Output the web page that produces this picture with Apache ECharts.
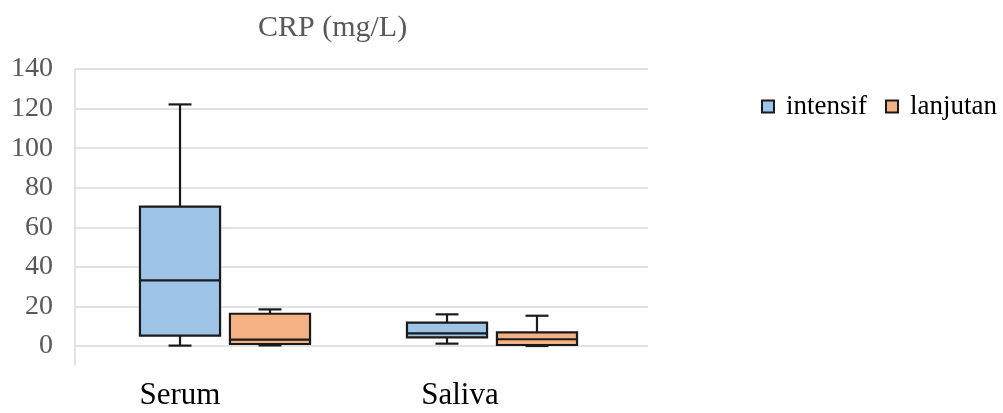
<!DOCTYPE html>
<html>
<head>
<meta charset="utf-8">
<script src="https://cdn.jsdelivr.net/npm/echarts@6/dist/echarts.min.js"></script>
<style>
html,body{margin:0;padding:0;background:#fff;}
#chart{width:1003px;height:413px;}
</style>
</head>
<body>
<div id="chart"></div>
<script>
// ---- data ----
const categories = ['Serum', 'Saliva'];
const seriesNames = ['intensif', 'lanjutan'];
// [min, Q1, median, Q3, max]
const intensifStats = [
  [0.2, 5.2, 33.2, 70.4, 122.1],
  [1.2, 4.4, 6.4, 11.8, 16.0]
];
const lanjutanStats = [
  [0.3, 1.0, 3.2, 16.3, 18.5],
  [0.0, 0.5, 3.4, 6.9, 15.3]
];
const yTicks = [0, 20, 40, 60, 80, 100, 120, 140];

const colors = ['#9dc3e6', '#f4b183'];
const edge = '#1a1a1a';
const serif = '"Liberation Serif", "DejaVu Serif", serif';

function toRows(stats) {
  return stats.map((s, i) => [i].concat(s));
}

function makeRenderer(offsetFrac) {
  return function (params, api) {
    const cat = api.value(0);
    const band = api.size([1, 0])[0];
    const off = band * offsetFrac;
    const boxW = band * 0.3;
    const capW = band * 0.086;
    const pMin = api.coord([cat, api.value(1)]);
    const pQ1 = api.coord([cat, api.value(2)]);
    const pMed = api.coord([cat, api.value(3)]);
    const pQ3 = api.coord([cat, api.value(4)]);
    const pMax = api.coord([cat, api.value(5)]);
    const cx = pMin[0] + off;
    const lineStyle = { stroke: edge, lineWidth: 2.2 };
    return {
      type: 'group',
      children: [
        { type: 'line', shape: { x1: cx, y1: pMax[1], x2: cx, y2: pQ3[1] }, style: lineStyle },
        { type: 'line', shape: { x1: cx, y1: pQ1[1], x2: cx, y2: pMin[1] }, style: lineStyle },
        { type: 'line', shape: { x1: cx - capW / 2, y1: pMax[1], x2: cx + capW / 2, y2: pMax[1] }, style: lineStyle },
        { type: 'line', shape: { x1: cx - capW / 2, y1: pMin[1], x2: cx + capW / 2, y2: pMin[1] }, style: lineStyle },
        { type: 'rect', shape: { x: cx - boxW / 2, y: pQ3[1], width: boxW, height: pQ1[1] - pQ3[1] },
          style: { fill: api.visual('color'), stroke: edge, lineWidth: 2.2 } },
        { type: 'line', shape: { x1: cx - boxW / 2, y1: pMed[1], x2: cx + boxW / 2, y2: pMed[1] }, style: lineStyle }
      ]
    };
  };
}

const chart = echarts.init(document.getElementById('chart'), null, { renderer: 'canvas' });
const hiddenY = { type: 'value', min: yTicks[0], max: yTicks[yTicks.length - 1], show: false };

chart.setOption({
  animation: false,
  backgroundColor: '#ffffff',
  title: {
    text: 'CRP (mg/L)',
    left: 253, top: 8,
    textStyle: { fontFamily: serif, fontSize: 30, fontWeight: 'normal', color: '#595959' }
  },
  legend: {
    left: 756, top: 88,
    icon: 'rect', itemWidth: 12, itemHeight: 12, itemGap: 18,
    data: seriesNames.map((n, i) => ({ name: n, itemStyle: { color: colors[i], borderColor: edge, borderWidth: 2 } })),
    textStyle: { fontFamily: serif, fontSize: 27, color: '#000', padding: [0, 0, 0, 7] }
  },
  grid: [
    { left: 75, right: 355, top: 69, bottom: 67 },   // gridlines & y labels
    { left: 75, right: 355, top: 69, bottom: 48 },   // y axis line
    { left: 91.5, right: 377.5, top: 69, bottom: 67 }, // boxes
    { left: 40, right: 403, top: 69, bottom: 67 }    // category labels
  ],
  xAxis: [
    { type: 'category', data: categories, gridIndex: 0, show: false },
    { type: 'category', data: categories, gridIndex: 1, show: false },
    { type: 'category', data: categories, gridIndex: 2, show: false },
    { type: 'category', data: categories, gridIndex: 3,
      axisLine: { show: false }, axisTick: { show: false },
      axisLabel: { margin: 34, fontFamily: serif, fontSize: 31, color: '#000' } }
  ],
  yAxis: [
    { type: 'value', gridIndex: 0, min: 0, max: 140, interval: 20,
      axisLine: { show: false }, axisTick: { show: false },
      axisLabel: { margin: 22, fontFamily: serif, fontSize: 28, color: '#595959' },
      splitLine: { lineStyle: { color: '#d9d9d9', width: 1.5 } } },
    { type: 'value', gridIndex: 1, min: 0, max: 10,
      axisLine: { show: true, lineStyle: { color: '#d9d9d9', width: 1.5 } },
      axisTick: { show: false }, axisLabel: { show: false }, splitLine: { show: false } },
    Object.assign({ gridIndex: 2 }, hiddenY),
    { type: 'value', gridIndex: 3, show: false }
  ],
  series: [
    {
      name: seriesNames[0], type: 'custom', xAxisIndex: 2, yAxisIndex: 2,
      itemStyle: { color: colors[0], borderColor: edge },
      encode: { x: 0, y: [1, 2, 3, 4, 5] },
      renderItem: makeRenderer(-0.1685),
      data: toRows(intensifStats)
    },
    {
      name: seriesNames[1], type: 'custom', xAxisIndex: 2, yAxisIndex: 2,
      itemStyle: { color: colors[1], borderColor: edge },
      encode: { x: 0, y: [1, 2, 3, 4, 5] },
      renderItem: makeRenderer(0.1685),
      data: toRows(lanjutanStats)
    }
  ]
});
</script>
</body>
</html>
